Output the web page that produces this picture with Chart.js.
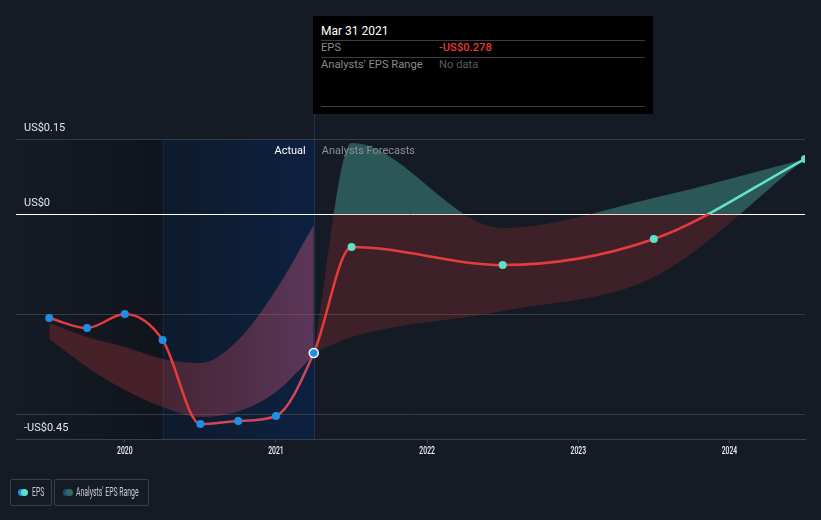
<!DOCTYPE html>
<html>
<head>
<meta charset="utf-8">
<script src="https://cdn.jsdelivr.net/npm/chart.js@4.4.0/dist/chart.umd.min.js"></script>
<style>
  html, body { margin: 0; padding: 0; background: #151b25; }
  #wrap { position: relative; width: 821px; height: 520px; font-family: Roboto, sans-serif; }
  #chart { position: absolute; left: 0; top: 0; }
  .tip { position: absolute; left: 313px; top: 16px; width: 340px; height: 98px; background: #000; }
  .tip .row { position: absolute; left: 8px; width: 324px; font-size: 11.2px; }
  .tip .sep { position: absolute; left: 8px; width: 324px; height: 1px; background: #3d3d3d; }
  .legend { position: absolute; top: 479px; height: 25px; border: 1px solid #3a3f4a; border-radius: 2px; }
  .legend .dot { position: absolute; top: 9px; width: 7px; height: 7px; border-radius: 50%; }
  .legend .txt { position: absolute; top: 4px; font-size: 13px; color: #c8cbd0; transform: scaleX(0.53); transform-origin: left center; white-space: nowrap; }
</style>
</head>
<body>
<div id="wrap">
  <canvas id="chart" width="821" height="520"></canvas>

  <div class="tip">
    <div class="row" style="top:8px;color:#fff;font-size:12px;">Mar 31 2021</div>
    <div class="sep" style="top:24px;"></div>
    <div class="row" style="top:25px;color:#8a8a8a;">EPS<span style="position:absolute;left:118px;color:#e5393b;font-weight:500;">-US$0.278</span></div>
    <div class="sep" style="top:41px;"></div>
    <div class="row" style="top:42px;color:#8a8a8a;">Analysts' EPS Range<span style="position:absolute;left:118px;color:#5c5c5c;">No data</span></div>
    <div class="sep" style="top:90px;"></div>
  </div>

  <div class="legend" style="left:10px;width:40px;">
    <div class="dot" style="left:7px;background:#1e8fe6;"></div>
    <div class="dot" style="left:10px;background:#5fe0c9;"></div>
    <div class="txt" style="left:21px;">EPS</div>
  </div>
  <div class="legend" style="left:54px;width:93px;">
    <div class="dot" style="left:8px;background:#1a4f7c;"></div>
    <div class="dot" style="left:11px;background:#2f6b66;"></div>
    <div class="txt" style="left:21px;">Analysts' EPS Range</div>
  </div>
</div>

<script>
// EPS, actual + analyst forecast (fiscal year ends June)
var epsX = [2019.5, 2019.75, 2020, 2020.25, 2020.5, 2020.75, 2021, 2021.25, 2021.5, 2022.5, 2023.5, 2024.5];
var epsY = [-0.208, -0.228, -0.2, -0.252, -0.42, -0.414, -0.404, -0.278, -0.066, -0.102, -0.05, 0.11];
var actualCount = 8;

// past analyst range
var pastX = [2019.5, 2019.75, 2020, 2020.25, 2020.5, 2020.75, 2021, 2021.25];
var pastHigh = [-0.218, -0.246, -0.266, -0.29, -0.298, -0.252, -0.152, -0.022];
var pastLow = [-0.25, -0.306, -0.352, -0.386, -0.406, -0.395, -0.356, -0.282];

// forecast analyst range
var fcX = [2021.25, 2021.5, 2022.5, 2023.5, 2024.5];
var fcHigh = [-0.278, 0.142, -0.028, 0.032, 0.11];
var fcLow = [-0.278, -0.246, -0.194, -0.126, 0.11];

var yearTicks = [2020, 2021, 2022, 2023, 2024];
var gridValues = [0.15, 0, -0.2, -0.4, -0.45];
var yLabelValues = [0.15, 0, -0.45];
var yLabelText = ['US$0.15', 'US$0', '-US$0.45'];

var highlightFrom = 2020.25;
var todayX = 2021.25;

function pts(xs, ys){
    return xs.map(function(x, i){ return {x: x, y: ys[i]}; });
}

// split colour at the zero line: above / below
function zeroSplit(chart, above, below){
    var area = chart.chartArea;
    if (!area) return below;
    var y0 = chart.scales.y.getPixelForValue(0);
    var g = chart.ctx.createLinearGradient(0, area.top, 0, area.bottom);
    var t = Math.min(1, Math.max(0, (y0 - area.top) / (area.bottom - area.top)));
    g.addColorStop(0, above);
    g.addColorStop(t, above);
    g.addColorStop(t, below);
    g.addColorStop(1, below);
    return g;
}

var backdrop = {
    id: 'backdrop',
    beforeDraw: function(chart){
        var ctx = chart.ctx, a = chart.chartArea, x = chart.scales.x;
        var xh = x.getPixelForValue(highlightFrom), xt = x.getPixelForValue(todayX);
        ctx.save();
        var g1 = ctx.createLinearGradient(a.left, 0, xh, 0);
        g1.addColorStop(0, 'rgba(21,27,37,1)');
        g1.addColorStop(1, 'rgba(16,20,28,1)');
        ctx.fillStyle = g1;
        ctx.fillRect(a.left, a.top, xh - a.left, a.bottom - a.top);
        var g2 = ctx.createLinearGradient(xh, 0, xt, 0);
        g2.addColorStop(0, '#0e1a2c');
        g2.addColorStop(1, '#0c2140');
        ctx.fillStyle = g2;
        ctx.fillRect(xh, a.top, xt - xh, a.bottom - a.top);
        ctx.strokeStyle = '#16263b';
        ctx.lineWidth = 1;
        ctx.beginPath();
        ctx.moveTo(Math.round(xh) + 0.5, a.top); ctx.lineTo(Math.round(xh) + 0.5, a.bottom);
        ctx.stroke();
        ctx.strokeStyle = '#1c3454';
        ctx.beginPath();
        ctx.moveTo(Math.round(xt) + 0.5, 114); ctx.lineTo(Math.round(xt) + 0.5, a.bottom);
        ctx.stroke();
        ctx.restore();
    },
    afterDraw: function(chart){
        var ctx = chart.ctx, a = chart.chartArea, x = chart.scales.x, y = chart.scales.y;
        ctx.save();
        ctx.font = '11px Roboto';
        ctx.textBaseline = 'middle';
        ctx.fillStyle = '#e3e5e8';
        yLabelValues.forEach(function(v, i){
            ctx.fillText(yLabelText[i], 24, y.getPixelForValue(v) - 11);
        });
        var xt = x.getPixelForValue(todayX);
        ctx.textAlign = 'right';
        ctx.fillStyle = '#ffffff';
        ctx.fillText('Actual', xt - 8, 151);
        ctx.textAlign = 'left';
        ctx.fillStyle = '#8b9097';
        ctx.fillText('Analysts Forecasts', xt + 8, 151);
        // condensed year labels
        ctx.fillStyle = '#f0f0f0';
        ctx.font = '500 11px Roboto';
        ctx.textAlign = 'center';
        yearTicks.forEach(function(v){
            ctx.save();
            ctx.translate(x.getPixelForValue(v), a.bottom + 12.5);
            ctx.scale(0.62, 1);
            ctx.fillText(String(v), 0, 0);
            ctx.restore();
        });
        ctx.restore();
    }
};

var ctx = document.getElementById('chart').getContext('2d');
var chart = new Chart(ctx, {
    type: 'line',
    data: {
        datasets: [{
            label: 'EPS',
            data: pts(epsX, epsY),
            order: 0,
            borderWidth: 2.5,
            cubicInterpolationMode: 'monotone',
            borderColor: function(c){ return zeroSplit(c.chart, '#62e3cc', '#e53b3d'); },
            segment: {
                borderColor: function(s){
                    if (s.p0.parsed.x >= 2020.5 && s.p1.parsed.x <= todayX) return '#d0475b';
                    return undefined;
                }
            },
            pointRadius: epsX.map(function(v, i){ return i === actualCount - 1 ? 4.5 : 4; }),
            pointBorderWidth: epsX.map(function(v, i){ return i === actualCount - 1 ? 1.5 : 0; }),
            pointBorderColor: '#ffffff',
            pointBackgroundColor: epsX.map(function(v, i){ return i < actualCount ? '#1e8fe6' : '#5fe0c9'; }),
            fill: false
        }, {
            label: 'pastHigh',
            data: pts(pastX, pastHigh),
            order: 2,
            borderWidth: 0,
            pointRadius: 0,
            cubicInterpolationMode: 'monotone',
            fill: '+1',
            backgroundColor: function(c){
                var chart = c.chart, a = chart.chartArea;
                if (!a) return 'rgba(229,57,53,0.22)';
                var x = chart.scales.x;
                var g = chart.ctx.createLinearGradient(x.getPixelForValue(pastX[0]), 0, x.getPixelForValue(todayX), 0);
                g.addColorStop(0, 'rgba(229,57,53,0.24)');
                g.addColorStop(0.45, 'rgba(229,70,80,0.26)');
                g.addColorStop(1, 'rgba(232,92,135,0.36)');
                return g;
            }
        }, {
            label: 'pastLow',
            data: pts(pastX, pastLow),
            order: 2,
            borderWidth: 0,
            pointRadius: 0,
            cubicInterpolationMode: 'monotone',
            fill: false
        }, {
            label: 'fcHigh',
            data: pts(fcX, fcHigh),
            order: 1,
            borderWidth: 0,
            pointRadius: 0,
            cubicInterpolationMode: 'monotone',
            fill: '+1',
            backgroundColor: function(c){ return zeroSplit(c.chart, 'rgba(99,230,207,0.30)', 'rgba(229,57,53,0.20)'); }
        }, {
            label: 'fcLow',
            data: pts(fcX, fcLow),
            order: 1,
            borderWidth: 0,
            pointRadius: 0,
            cubicInterpolationMode: 'monotone',
            fill: false
        }]
    },
    options: {
        responsive: false,
        animation: false,
        devicePixelRatio: 1,
        layout: { padding: { left: 16, right: 16, top: 139, bottom: 77 } },
        plugins: { legend: { display: false }, tooltip: { enabled: false } },
        events: [],
        scales: {
            x: {
                type: 'linear',
                min: 2019.28,
                max: 2024.5,
                afterBuildTicks: function(s){ s.ticks = yearTicks.map(function(v){ return {value: v}; }); },
                ticks: { display: false },
                grid: { drawOnChartArea: false, drawTicks: true, tickLength: 4, tickColor: '#3a3f49' },
                border: { color: '#3a3f49' }
            },
            y: {
                min: -0.45,
                max: 0.15,
                afterBuildTicks: function(s){ s.ticks = gridValues.map(function(v){ return {value: v}; }); },
                ticks: { display: false },
                grid: {
                    drawTicks: false,
                    color: function(c){ return c.tick && c.tick.value === 0 ? '#ffffff' : '#363c46'; },
                    lineWidth: 1
                },
                border: { display: false }
            }
        }
    },
    plugins: [backdrop]
});
</script>
</body>
</html>
